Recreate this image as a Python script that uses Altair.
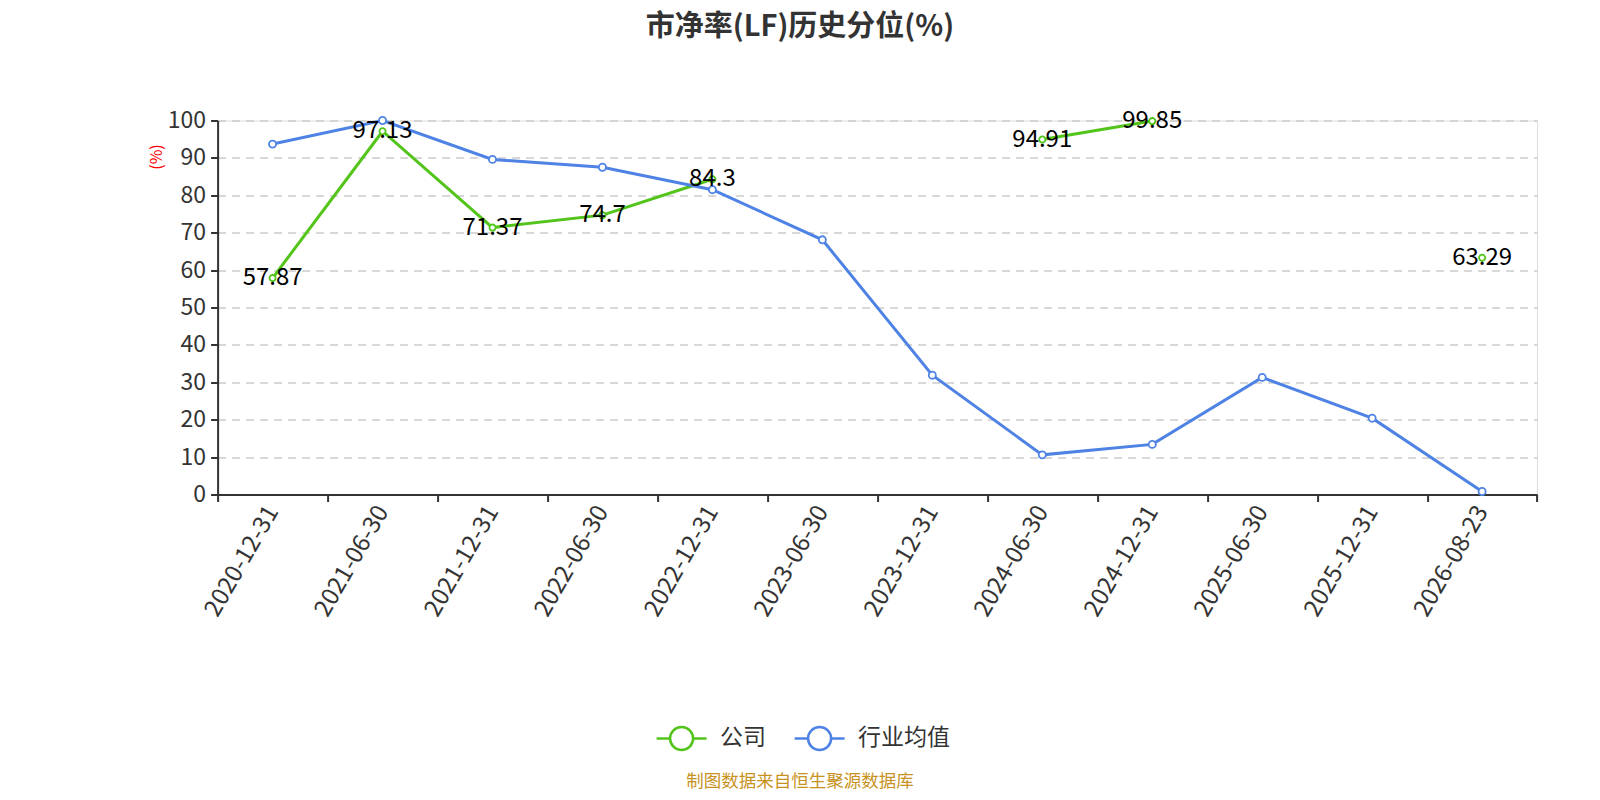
import altair as alt
import pandas as pd

dates = ["2020-12-31", "2021-06-30", "2021-12-31", "2022-06-30", "2022-12-31", "2023-06-30",
         "2023-12-31", "2024-06-30", "2024-12-31", "2025-06-30", "2025-12-31", "2026-08-23"]
company = [57.87, 97.13, 71.37, 74.7, 84.3, None, None, 94.91, 99.85, None, None, 63.29]
industry = [93.7, 100.0, 89.6, 87.5, 81.5, 68.1, 31.9, 10.6, 13.4, 31.3, 20.4, 0.8]
series_names = ["公司", "行业均值"]
series_colors = ["#52c41a", "#4e82e4"]
title_text = "市净率(LF)历史分位(%)"
source_text = "制图数据来自恒生聚源数据库"

FONT = "Noto Sans CJK SC"

rows = []
for d, c, i in zip(dates, company, industry):
    rows.append({"date": d, "series": series_names[0], "value": c})
    rows.append({"date": d, "series": series_names[1], "value": i})
df = pd.DataFrame(rows)
df_c = df[df["series"] == series_names[0]].copy()
df_c["label"] = df_c["value"].map(lambda v: "" if pd.isna(v) else f"{v:g}")
df_i = df[df["series"] == series_names[1]]

xenc = alt.X("date:N", sort=dates, bandPosition=0.5,
             scale=alt.Scale(type="band", paddingInner=0, paddingOuter=0),
             axis=alt.Axis(title=None, labelAngle=-60, labelAlign="right", labelBaseline="middle",
                           labelFontSize=24, labelColor="#333", labelPadding=6, labelFont=FONT,
                           tickBand="extent", tickSize=7, tickWidth=2, tickColor="#333",
                           domainColor="#333", domainWidth=2, grid=False))
yenc = alt.Y("value:Q", scale=alt.Scale(domain=[0, 100], nice=False),
             axis=alt.Axis(title="(%)", titleColor="red", titleFontSize=16, titleFontWeight="normal",
                           titleFont=FONT, titleX=-61, titleY=36, titleAlign="center", titleBaseline="middle",
                           values=list(range(0, 101, 10)), labelFontSize=23, labelColor="#333", labelFont=FONT,
                           labelPadding=5, tickSize=7, tickWidth=2, tickColor="#333",
                           domainColor="#333", domainWidth=2, grid=True, gridColor="#cccccc",
                           gridDash=[8, 6], gridWidth=1.3))
color = alt.Color("series:N", scale=alt.Scale(domain=series_names, range=series_colors),
                  legend=alt.Legend(title=None, orient="none", legendX=437.5, legendY=591.5,
                                    direction="horizontal", labelFontSize=23, labelColor="#333",
                                    labelFont=FONT, columnPadding=23, labelOffset=12,
                                    symbolType="M-1,0L-0.46,0M0.46,0L1,0M-0.46,0A0.46,0.46,0,1,1,0.46,0A0.46,0.46,0,1,1,-0.46,0Z",
                                    symbolSize=2500, symbolStrokeWidth=2.5, symbolFillColor="white"))

line_c = alt.Chart(df_c).mark_line(strokeWidth=3, invalid="break-paths-show-domains").encode(x=xenc, y=yenc, color=color)
pts_c = alt.Chart(df_c).mark_point(filled=True, fill="white", size=38, strokeWidth=1.8, opacity=1).encode(
    x=xenc, y=yenc, stroke=alt.Stroke("series:N", scale=alt.Scale(domain=series_names, range=series_colors), legend=None))
line_i = alt.Chart(df_i).mark_line(strokeWidth=3).encode(x=xenc, y=yenc, color=color)
pts_i = alt.Chart(df_i).mark_point(filled=True, fill="white", size=50, strokeWidth=1.8, opacity=1).encode(
    x=xenc, y=yenc, stroke=alt.Stroke("series:N", scale=alt.Scale(domain=series_names, range=series_colors), legend=None))
labels = alt.Chart(df_c).mark_text(fontSize=24, color="black", baseline="middle", font=FONT).encode(
    x=xenc, y=yenc, text="label:N")
src = alt.Chart(pd.DataFrame({"t": [source_text]})).mark_text(
    fontSize=17.5, color="#c8921e", font=FONT, baseline="middle", align="center").encode(
    x=alt.value(582.4), y=alt.value(661.5), text="t:N")

chart = alt.layer(line_c, pts_c, line_i, pts_i, labels, src).properties(
    width=1319.5, height=374,
    title=alt.TitleParams(title_text, fontSize=29, font=FONT, fontWeight="bold", color="#333",
                          anchor="middle", dx=-77.4, offset=67),
    autosize=alt.AutoSizeParams(type="none"),
    padding={"left": 209.6, "top": 112.5, "right": 40, "bottom": 297.5},
).configure_view(stroke=None).configure(background="white")

chart.save("out.html", embed_options={"renderer": "svg", "actions": False})
